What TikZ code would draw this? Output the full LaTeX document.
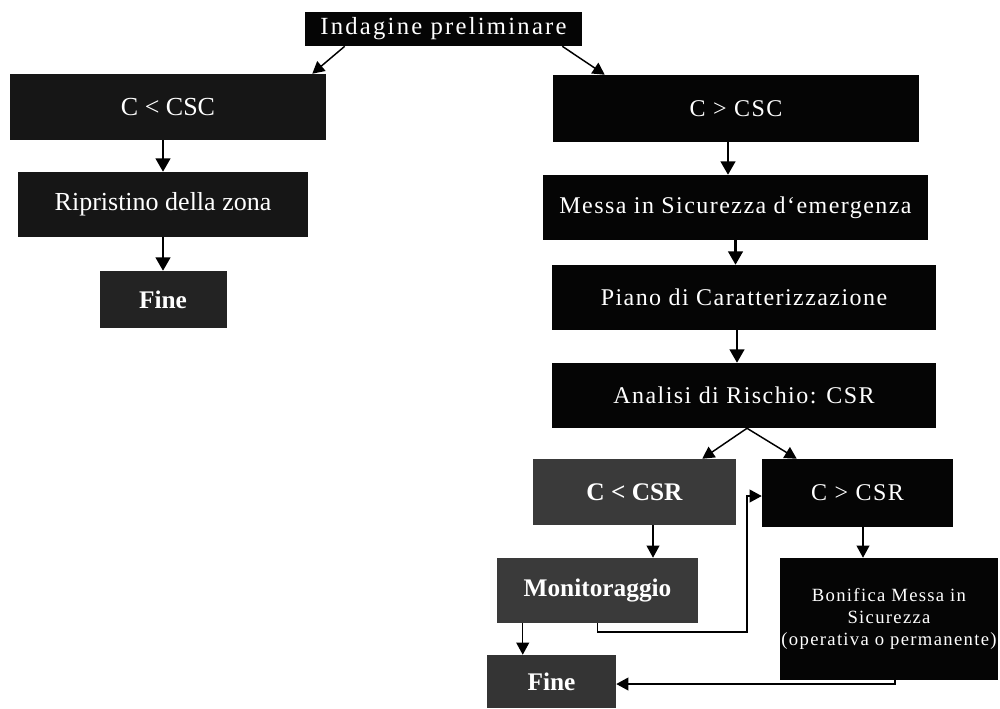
\documentclass[tikz,border=0pt]{standalone}
\usepackage{fontspec}
\setmainfont{Liberation Serif}
\usetikzlibrary{arrows.meta,calc}
\definecolor{boxblack}{HTML}{050505}
\definecolor{boxdark}{HTML}{161616}
\definecolor{boxmid}{HTML}{232323}
\definecolor{boxgray}{HTML}{3A3A3A}
\begin{document}
\begin{tikzpicture}[x=0.75pt,y=-0.75pt,
  box/.style={rectangle, fill=boxblack, text=white, inner sep=0pt, align=center,
    font=\fontsize{18}{21}\selectfont\addfontfeatures{LetterSpace=6}},
  leftbox/.style={box, fill=boxdark, font=\fontsize{19.5}{22}\selectfont},
  boldbox/.style={box, fill=boxgray, font=\fontsize{19}{22}\selectfont\bfseries},
  smallbox/.style={box, font=\fontsize{14}{16.5}\selectfont\addfontfeatures{LetterSpace=7}},
  arr/.style={-{Triangle[length=10pt,width=11pt]}, line width=1.6pt, black},
  thinarr/.style={-{Triangle[length=9pt,width=9.5pt]}, line width=1.1pt, black}
]
\useasboundingbox (0,0) rectangle (1000,708);
% nodes
\node[box, minimum width=207.75pt, minimum height=25.5pt,
  font=\fontsize{18.5}{21}\selectfont\addfontfeatures{LetterSpace=9}] (ind) at (443.5,29) {Indagine preliminare};
\node[leftbox, minimum width=237pt, minimum height=49.5pt] (ltc) at (168,107) {C < CSC};
\node[leftbox, minimum width=217.5pt, minimum height=48.75pt] (rip) at (163,204.5) {Ripristino della zona};
\node[boldbox, fill=boxmid, minimum width=95.25pt, minimum height=42.75pt] (lfin) at (163,299.5) {Fine};
\node[box, minimum width=274.5pt, minimum height=50.25pt] (rtc) at (736,108.5) {C > CSC};
\node[box, minimum width=288.75pt, minimum height=48.75pt] (mes) at (735.5,207.5) {Messa in Sicurezza d‘emergenza};
\node[box, minimum width=288pt, minimum height=48.75pt] (pia) at (744,297.5) {Piano di Caratterizzazione};
\node[box, minimum width=288pt, minimum height=48.75pt] (ana) at (744,395.5) {Analisi di Rischio: CSR};
\node[boldbox, minimum width=152.25pt, minimum height=49.5pt] (lsr) at (634.5,492) {C < CSR};
\node[box, minimum width=143.25pt, minimum height=51pt] (gsr) at (857.5,493) {C > CSR};
\node[boldbox, minimum width=150.75pt, minimum height=48.75pt] (mon) at (597.5,590.5) {Monitoraggio};
\node[smallbox, minimum width=163.5pt, minimum height=91.5pt] (bon) at (889,619) {Bonifica Messa in\\Sicurezza\\(operativa o permanente)};
\node[boldbox, fill=boxgray!90!black, minimum width=96.75pt, minimum height=39.75pt] (rfin) at (551.5,681.5) {Fine};
% connectors
\draw[thinarr] ($(ind.south west)+(40,0)$) -- ($(ltc.north east)+(-14,0)$);
\draw[thinarr] ($(ind.south east)+(-20,0)$) -- ($(rtc.north west)+(52,0)$);
\draw[arr] (ltc.south -| rip.north) -- (rip.north);
\draw[arr] (rip.south) -- (lfin.north);
\draw[arr] ($(rtc.south)+(-8,0)$) coordinate (a) -- (a |- mes.north);
\draw[arr] (mes.south) -- (mes.south |- pia.north);
\draw[arr] ($(pia.south)+(-7,0)$) coordinate (b) -- (b |- ana.north);
\draw[thinarr] ($(ana.south)+(3,0)$) -- ($(lsr.north east)+(-34,0)$);
\draw[thinarr] ($(ana.south)+(3,0)$) -- ($(gsr.north west)+(35,0)$);
\draw[thinarr] ($(lsr.south)+(18.5,0)$) coordinate (c) -- (c |- mon.north);
\draw[thinarr] ($(gsr.south)+(5.5,0)$) coordinate (d) -- (d |- bon.north);
\coordinate (jog) at (747,632);
\draw[thinarr] (mon.south) |- (jog) |- ($(gsr.west)+(0,3)$);
\draw[thinarr] ($(mon.south west)+(26,0)$) coordinate (g) -- (g |- rfin.north);
\draw[thinarr] ($(bon.south)+(6,0)$) |- ($(rfin.east)+(0,2.5)$);
\end{tikzpicture}
\end{document}
